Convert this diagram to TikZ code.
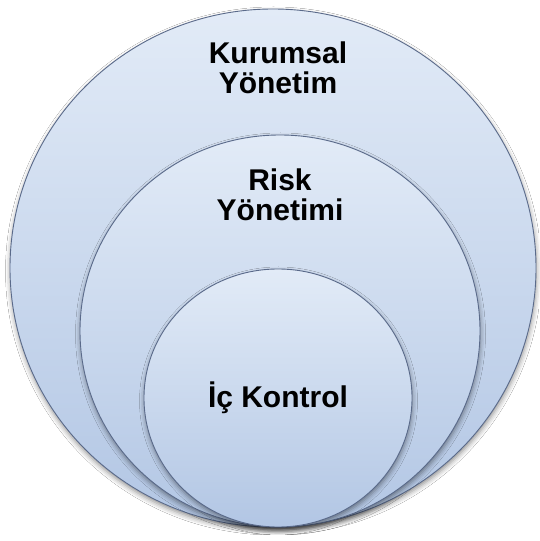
\documentclass[tikz,border=0pt]{standalone}
\usepackage{fontspec}
\setmainfont{Liberation Sans}
\usetikzlibrary{shapes.geometric,shadows.blur}
\definecolor{topc}{HTML}{E2EBF7}
\definecolor{botc}{HTML}{B2C6E4}
\definecolor{edgec}{HTML}{5A6A8A}
\tikzset{
  ring/.style={ellipse, inner sep=0pt, draw=edgec, line width=0.9pt,
    top color=topc, bottom color=botc,
    blur shadow={shadow xshift=0.5pt, shadow yshift=-3pt, shadow blur radius=5pt, shadow opacity=45}},
  label/.style={font=\fontsize{30}{30}\selectfont\bfseries, align=center, text=black, inner sep=0pt}
}
\begin{document}
\begin{tikzpicture}[x=1pt,y=1pt]
\fill[white] (0,0) rectangle (539,541);
\useasboundingbox (0,0) rectangle (539,541);
\node[ring, minimum width=526pt, minimum height=518pt] (outer) at (273,273) {};
\node[ring, minimum width=400pt, minimum height=392pt] (middle) at (280,210) {};
\node[ring, minimum width=268pt, minimum height=258pt] (inner) at (278,143) {};
\node[label] (t1) at (278,473.5) {Kurumsal\\Yönetim};
\node[label] (t2) at (280,346.5) {Risk\\Yönetimi};
\node[label, anchor=base] (t3) at (278,133) {İç Kontrol};
\end{tikzpicture}
\end{document}
